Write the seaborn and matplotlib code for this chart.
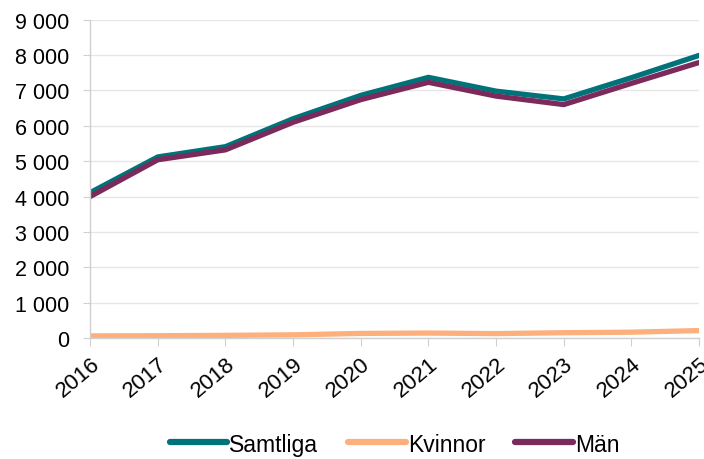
import pandas as pd
import matplotlib.pyplot as plt
import matplotlib.ticker as mticker
import seaborn as sns

years = [2016, 2017, 2018, 2019, 2020, 2021, 2022, 2023, 2024, 2025]
samtliga = [4110, 5120, 5410, 6200, 6860, 7370, 6980, 6760, 7360, 7990]
kvinnor = [60, 65, 75, 90, 130, 140, 125, 150, 165, 210]
man = [4000, 5040, 5320, 6100, 6740, 7230, 6840, 6600, 7200, 7790]

series_names = ["Samtliga", "Kvinnor", "Män"]
colors = ["#00737A", "#FDAF7C", "#7B2A5B"]

df = pd.DataFrame({
    "year": years * 3,
    "value": samtliga + kvinnor + man,
    "series": [n for n in series_names for _ in years],
})

sns.set_style("white")
plt.rcParams["font.family"] = ["Liberation Sans", "DejaVu Sans"]
plt.rcParams["text.color"] = "black"
plt.rcParams["xtick.color"] = "black"
plt.rcParams["ytick.color"] = "black"

fig = plt.figure(figsize=(7.04, 4.6), dpi=100)
ax = fig.add_axes([0.128, 0.263, 0.865, 0.692])

sns.lineplot(data=df, x="year", y="value", hue="series", hue_order=series_names,
             palette=colors, linewidth=3.8, ax=ax)

ax.set_xlim(2016, 2025)
ax.set_ylim(0, 9000)
ax.set_xticks(years)
ax.set_xticklabels([str(y) for y in years], rotation=40, ha="right",
                   rotation_mode="anchor", fontsize=16)
ax.set_yticks(range(0, 9001, 1000))
ax.yaxis.set_major_formatter(mticker.FuncFormatter(lambda v, p: f"{int(v):,}".replace(",", " ")))
ax.tick_params(axis="y", labelsize=15.5, length=5, color="#d0d0d0", pad=10, left=True)
ax.tick_params(axis="x", length=6, color="#d0d0d0", pad=5, bottom=True)
ax.set_xlabel("")
ax.set_ylabel("")

ax.grid(axis="y", color="#e6e6e6", linewidth=1)
ax.set_axisbelow(True)
for s in ["top", "right"]:
    ax.spines[s].set_visible(False)
for s in ["left", "bottom"]:
    ax.spines[s].set_color("#d0d0d0")
    ax.spines[s].set_linewidth(1)

handles, labels = ax.get_legend_handles_labels()
for h in handles:
    h.set_linewidth(4.5)
ax.legend(handles, labels, loc="center", bbox_to_anchor=(0.5, -0.333),
          ncol=3, frameon=False, fontsize=16.5, handlelength=2.5,
          handletextpad=0.1, columnspacing=1.3)

fig.savefig("out.png", dpi=100)
